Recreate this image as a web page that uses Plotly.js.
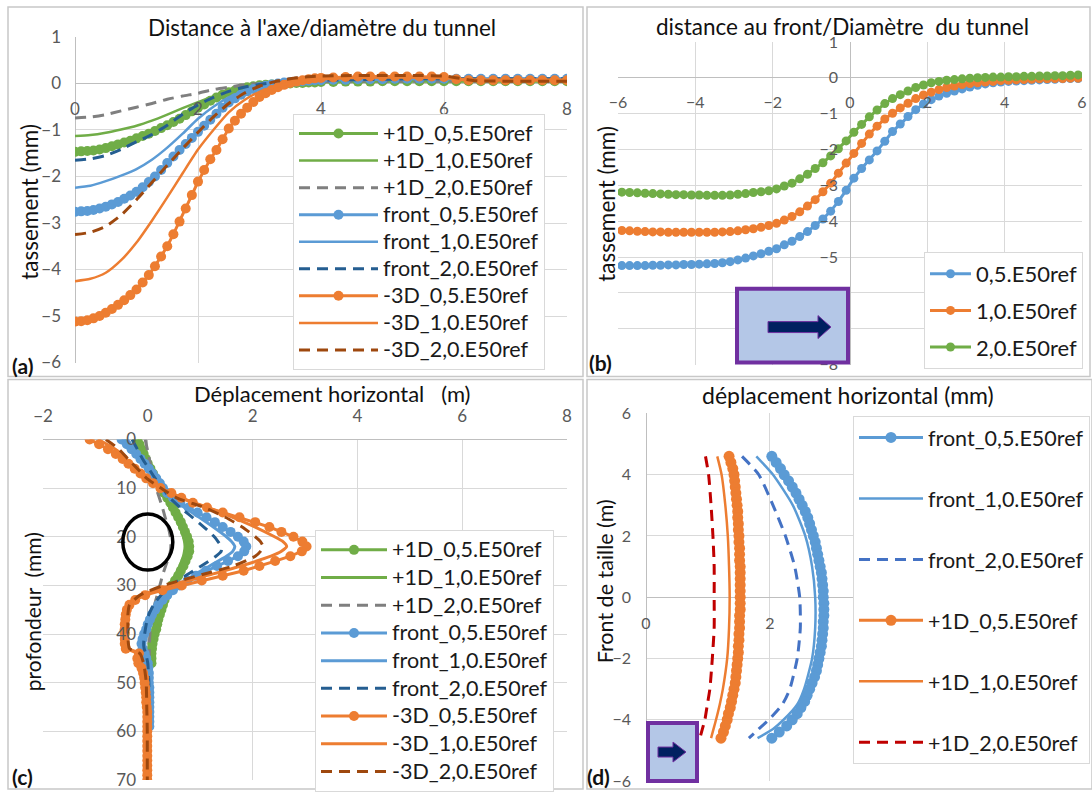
<!DOCTYPE html>
<html><head><meta charset="utf-8">
<script src="https://cdn.plot.ly/plotly-3.0.1.min.js"></script>
<style>html,body{margin:0;padding:0;background:#fff}#plot{width:1092px;height:792px}</style>
</head><body><div id="plot"></div>
<script>
// ---------- Panel (a): settlement vs distance to axis / diameter ----------
const xa = [0,0.1,0.2,0.3,0.4,0.5,0.6,0.7,0.8,0.9,1,1.1,1.2,1.3,1.4,1.5,1.6,1.7,1.8,1.9,2,2.1,2.2,2.3,2.4,2.5,2.6,2.7,2.8,2.9,3,3.1,3.2,3.3,3.4,3.5,3.6,3.7,3.8,3.9,4,4.2,4.4,4.6,4.8,5,5.2,5.4,5.6,5.8,6,6.2,6.4,6.6,6.8,7,7.2,7.4,7.6,7.8,8];
const a_p1_05 = [-1.47,-1.46,-1.45,-1.44,-1.42,-1.39,-1.35,-1.31,-1.27,-1.23,-1.18,-1.13,-1.08,-1.02,-0.96,-0.90,-0.83,-0.76,-0.68,-0.60,-0.52,-0.45,-0.37,-0.30,-0.24,-0.19,-0.15,-0.11,-0.08,-0.06,-0.04,-0.03,-0.02,-0.01,0.00,0.00,0.01,0.01,0.02,0.02,0.03,0.03,0.04,0.04,0.04,0.05,0.05,0.05,0.05,0.05,0.05,0.05,0.05,0.05,0.05,0.05,0.05,0.05,0.05,0.05,0.05];
const a_fr_05 = [-2.76,-2.75,-2.74,-2.72,-2.69,-2.65,-2.60,-2.55,-2.48,-2.41,-2.33,-2.23,-2.12,-2.00,-1.86,-1.71,-1.57,-1.43,-1.30,-1.17,-1.04,-0.91,-0.78,-0.65,-0.52,-0.41,-0.32,-0.24,-0.17,-0.12,-0.08,-0.05,-0.02,0.00,0.02,0.03,0.04,0.05,0.06,0.07,0.07,0.08,0.08,0.09,0.09,0.09,0.10,0.10,0.10,0.10,0.10,0.10,0.10,0.10,0.10,0.10,0.10,0.10,0.10,0.10,0.10];
const a_m3_05 = [-5.12,-5.11,-5.09,-5.05,-5.00,-4.93,-4.85,-4.76,-4.66,-4.55,-4.43,-4.28,-4.12,-3.93,-3.72,-3.50,-3.24,-2.97,-2.69,-2.40,-2.11,-1.86,-1.63,-1.43,-1.20,-0.97,-0.80,-0.65,-0.52,-0.40,-0.29,-0.21,-0.14,-0.08,-0.03,0.01,0.04,0.07,0.09,0.11,0.12,0.13,0.14,0.15,0.15,0.15,0.15,0.15,0.15,0.15,0.14,0.09,0.07,0.07,0.07,0.07,0.07,0.07,0.07,0.07,0.07];
const xl = [0,0.25,0.5,0.75,1,1.25,1.5,1.75,2,2.25,2.5,2.75,3,3.25,3.5,3.75,4,4.5,5,5.5,6,6.5,7,7.5,8];
const a_p1_10 = [-1.13,-1.11,-1.06,-0.99,-0.91,-0.80,-0.67,-0.53,-0.40,-0.28,-0.17,-0.09,-0.03,0.00,0.02,0.03,0.04,0.05,0.05,0.05,0.05,0.05,0.05,0.05,0.05];
const a_p1_20 = [-0.74,-0.72,-0.67,-0.59,-0.51,-0.43,-0.34,-0.27,-0.21,-0.13,-0.08,-0.03,0.00,0.02,0.03,0.04,0.04,0.05,0.05,0.05,0.05,0.05,0.05,0.05,0.05];
const a_fr_10 = [-2.24,-2.20,-2.10,-1.98,-1.84,-1.64,-1.38,-1.08,-0.76,-0.50,-0.30,-0.16,-0.07,-0.02,0.02,0.05,0.07,0.08,0.09,0.10,0.10,0.10,0.10,0.10,0.10];
const a_fr_20 = [-1.65,-1.62,-1.55,-1.42,-1.25,-1.10,-0.90,-0.66,-0.46,-0.30,-0.17,-0.08,-0.02,0.02,0.04,0.06,0.07,0.08,0.09,0.10,0.10,0.10,0.10,0.10,0.10];
const a_m3_10 = [-4.25,-4.20,-4.07,-3.80,-3.42,-2.95,-2.45,-1.93,-1.42,-1.00,-0.62,-0.36,-0.18,-0.07,0.01,0.06,0.09,0.12,0.13,0.13,0.12,0.08,0.08,0.08,0.08];
const a_m3_20 = [-3.25,-3.20,-3.07,-2.83,-2.50,-2.13,-1.76,-1.40,-1.05,-0.72,-0.43,-0.21,-0.06,0.04,0.10,0.14,0.16,0.17,0.17,0.17,0.16,0.06,0.05,0.05,0.05];
const a_names = ['+1D_0,5.E50ref','+1D_1,0.E50ref','+1D_2,0.E50ref','front_0,5.E50ref','front_1,0.E50ref','front_2,0.E50ref','-3D_0,5.E50ref','-3D_1,0.E50ref','-3D_2,0.E50ref'];

// ---------- Panel (b): settlement vs distance to face / diameter ----------
const xb = [-5.9,-5.7,-5.5,-5.3,-5.1,-4.9,-4.7,-4.5,-4.3,-4.1,-3.9,-3.7,-3.5,-3.3,-3.1,-2.9,-2.7,-2.5,-2.3,-2.1,-1.9,-1.7,-1.5,-1.3,-1.1,-0.9,-0.7,-0.5,-0.3,-0.1,0.1,0.3,0.5,0.7,0.9,1.1,1.3,1.5,1.7,1.9,2.1,2.3,2.5,2.7,2.9,3.1,3.3,3.5,3.7,3.9,4.1,4.3,4.5,4.7,4.9,5.1,5.3,5.5,5.7,5.9];
const b_05 = [-5.24,-5.24,-5.24,-5.24,-5.23,-5.23,-5.22,-5.22,-5.21,-5.21,-5.20,-5.19,-5.18,-5.16,-5.13,-5.08,-5.03,-4.97,-4.91,-4.84,-4.77,-4.66,-4.56,-4.43,-4.29,-4.12,-3.94,-3.72,-3.45,-3.14,-2.80,-2.53,-2.29,-2.04,-1.77,-1.50,-1.29,-1.08,-0.89,-0.73,-0.61,-0.51,-0.43,-0.37,-0.31,-0.26,-0.21,-0.17,-0.14,-0.12,-0.10,-0.09,-0.08,-0.07,-0.06,-0.05,-0.04,-0.03,-0.02,-0.02];
const b_10 = [-4.26,-4.27,-4.28,-4.29,-4.30,-4.30,-4.31,-4.31,-4.31,-4.31,-4.31,-4.31,-4.31,-4.30,-4.29,-4.27,-4.24,-4.21,-4.17,-4.12,-4.06,-3.97,-3.87,-3.74,-3.58,-3.40,-3.18,-2.94,-2.66,-2.38,-2.11,-1.83,-1.57,-1.35,-1.15,-0.99,-0.84,-0.71,-0.58,-0.48,-0.40,-0.33,-0.27,-0.23,-0.19,-0.16,-0.14,-0.12,-0.10,-0.08,-0.07,-0.06,-0.05,-0.04,-0.03,-0.03,-0.02,-0.02,-0.01,-0.01];
const b_20 = [-3.19,-3.20,-3.21,-3.22,-3.23,-3.24,-3.25,-3.26,-3.26,-3.27,-3.27,-3.28,-3.28,-3.28,-3.27,-3.25,-3.23,-3.20,-3.18,-3.15,-3.10,-3.02,-2.94,-2.82,-2.69,-2.53,-2.37,-2.18,-1.98,-1.76,-1.52,-1.30,-1.09,-0.90,-0.72,-0.58,-0.47,-0.37,-0.27,-0.20,-0.14,-0.10,-0.07,-0.05,-0.03,-0.01,0.00,0.01,0.02,0.02,0.03,0.03,0.04,0.04,0.05,0.05,0.06,0.06,0.07,0.08];
const b_names = ['0,5.E50ref','1,0.E50ref','2,0.E50ref'];

// ---------- Panel (c): horizontal displacement vs depth ----------
const dc = [0,1,2,3,4,5,6,7,8,9,10,11,12,13,14,15,16,17,18,19,20,21,22,23,24,25,26,27,28,29,30,31,32,33,34,35,36,37,38,39,40,41,42,43,44,45,46,47,48,49,50,51,52,53,54,55,56,57,58,59,60,61,62,63,64,65,66,67,68,69,70];
const c_p1_05 = [-0.20,-0.16,-0.12,-0.08,-0.04,0.00,0.05,0.10,0.15,0.20,0.25,0.31,0.37,0.43,0.48,0.53,0.58,0.63,0.67,0.71,0.75,0.78,0.79,0.79,0.76,0.72,0.68,0.63,0.58,0.52,0.46,0.41,0.36,0.32,0.29,0.26,0.23,0.20,0.18,0.16,0.13,0.11,0.09,0.08,0.07,0.07,0.07];
const c_fr_05 = [-0.50,-0.40,-0.31,-0.22,-0.14,-0.06,0.02,0.09,0.16,0.23,0.29,0.37,0.48,0.62,0.78,0.95,1.12,1.28,1.43,1.58,1.72,1.83,1.88,1.84,1.72,1.53,1.32,1.11,0.92,0.76,0.61,0.48,0.37,0.28,0.20,0.14,0.08,0.04,0.00,-0.03,-0.07,-0.10,-0.12,-0.10,-0.06,-0.03,0.00,0.01,0.02,0.02,0.02,0.03,0.03,0.03,0.03,0.03,0.03,0.03,0.03,0.03];
const c_m3_05 = [-1.11,-0.93,-0.76,-0.61,-0.48,-0.37,-0.25,-0.14,-0.03,0.10,0.24,0.45,0.64,0.86,1.13,1.43,1.75,2.05,2.32,2.55,2.78,2.95,3.03,2.94,2.72,2.43,2.13,1.83,1.43,1.03,0.65,0.28,-0.05,-0.24,-0.35,-0.40,-0.42,-0.43,-0.44,-0.44,-0.44,-0.44,-0.44,-0.42,-0.17,-0.20,-0.18,-0.12,-0.09,-0.07,-0.06,-0.05,-0.04,-0.03,-0.03,-0.02,-0.01,-0.01,-0.01,-0.01,-0.01,-0.01,-0.01,-0.01,-0.01,-0.01,-0.01,-0.01,-0.01,-0.01,-0.01];
const dcl = [0,2,4,6,8,10,12,14,16,18,20,21,22,23,24,26,28,30,32,34,36,38,40,42,43,44,46,48,50,55,60,65,70];
const c_p1_10 = [-0.15,-0.07,0.01,0.09,0.17,0.25,0.35,0.45,0.54,0.62,0.68,0.70,0.71,0.70,0.68,0.61,0.52,0.42,0.33,0.26,0.20,0.15,0.11,0.08,0.07,0.07,0.06];
const c_p1_20 = [-0.05,-0.01,0.03,0.07,0.11,0.16,0.22,0.28,0.33,0.39,0.43,0.44,0.44,0.43,0.41,0.34,0.28,0.23,0.18,0.13,0.09,0.06,0.04,0.03,0.03,0.03,0.03];
const c_fr_10 = [-0.45,-0.30,-0.15,0.00,0.13,0.28,0.45,0.70,0.98,1.25,1.50,1.60,1.66,1.62,1.50,1.18,0.86,0.58,0.36,0.18,0.06,-0.02,-0.07,-0.10,-0.09,-0.06,-0.01,0.01,0.02,0.03,0.03];
const c_fr_20 = [-0.30,-0.20,-0.10,0.02,0.14,0.28,0.42,0.62,0.85,1.07,1.27,1.34,1.40,1.40,1.30,1.02,0.72,0.45,0.25,0.11,0.02,-0.03,-0.06,-0.08,-0.07,-0.04,0.00,0.01,0.02,0.02,0.02];
const c_m3_10 = [-0.95,-0.62,-0.42,-0.22,-0.02,0.25,0.62,1.15,1.62,2.05,2.42,2.58,2.65,2.55,2.35,1.78,1.12,0.45,-0.12,-0.36,-0.42,-0.42,-0.42,-0.41,-0.38,-0.15,-0.12,-0.07,-0.04,-0.02,-0.01,-0.01,-0.01];
const c_m3_20 = [-0.80,-0.55,-0.38,-0.20,-0.02,0.25,0.55,1.08,1.48,1.80,2.05,2.15,2.20,2.15,2.05,1.63,0.96,0.30,-0.15,-0.35,-0.38,-0.38,-0.38,-0.37,-0.35,-0.15,-0.08,-0.05,-0.03,-0.02,-0.01,-0.01,-0.01];

// ---------- Panel (d): horizontal displacement along the face ----------
const yd = [4.6,4.4,4.2,4.0,3.8,3.6,3.4,3.2,3.0,2.8,2.6,2.4,2.2,2.0,1.8,1.6,1.4,1.2,1.0,0.8,0.6,0.4,0.2,0.0,-0.2,-0.4,-0.6,-0.8,-1.0,-1.2,-1.4,-1.6,-1.8,-2.0,-2.2,-2.4,-2.6,-2.8,-3.0,-3.2,-3.4,-3.6,-3.8,-4.0,-4.2,-4.4,-4.6];
const d_fr_05 = [2.03,2.10,2.17,2.23,2.30,2.36,2.42,2.47,2.52,2.57,2.61,2.64,2.67,2.70,2.73,2.75,2.77,2.79,2.81,2.83,2.84,2.85,2.86,2.86,2.87,2.87,2.87,2.86,2.86,2.85,2.84,2.83,2.81,2.79,2.77,2.75,2.72,2.68,2.64,2.60,2.56,2.50,2.44,2.36,2.27,2.15,2.03];
const d_p1_05 = [1.34,1.37,1.40,1.42,1.43,1.44,1.45,1.46,1.47,1.48,1.48,1.49,1.49,1.50,1.50,1.51,1.51,1.51,1.52,1.52,1.52,1.52,1.52,1.52,1.52,1.52,1.51,1.51,1.51,1.50,1.50,1.49,1.49,1.48,1.47,1.46,1.45,1.44,1.42,1.40,1.38,1.36,1.33,1.31,1.28,1.25,1.21];
const ydl = [4.6,4.0,3.0,2.0,1.0,0.0,-1.0,-2.0,-3.0,-3.5,-4.0,-4.3,-4.6];
const d_fr_10 = [1.78,2.05,2.37,2.57,2.68,2.73,2.73,2.68,2.55,2.44,2.22,2.05,1.80];
const d_fr_20 = [1.55,1.82,2.05,2.25,2.40,2.48,2.49,2.44,2.32,2.20,1.98,1.82,1.66];
const d_p1_10 = [1.15,1.22,1.28,1.32,1.34,1.35,1.34,1.31,1.24,1.19,1.13,1.09,1.05];
const d_p1_20 = [0.96,1.01,1.05,1.08,1.10,1.10,1.10,1.07,1.03,0.99,0.95,0.91,0.87];
const d_names = ['front_0,5.E50ref','front_1,0.E50ref','front_2,0.E50ref','+1D_0,5.E50ref','+1D_1,0.E50ref','+1D_2,0.E50ref'];

// ---------- styling ----------
const W = 1092, H = 792;
const px = v => v / W, py = v => 1 - v / H;
const FONT = 'Lato, "Open Sans", sans-serif';
const GREEN = '#70ad47', GREY = '#7f7f7f', BLUE = '#5b9bd5', DBLUE = '#255e91',
      ORANGE = '#ed7d31', BROWN = '#9e480e', BLUE2 = '#4472c4', RED = '#c00000';
const DASH = '11px,7px';
const big = (s, sz) => sz ? '<span style="font-size:' + sz + 'px">' + s + '</span>' : s;

function dots(x, y, name, color, size, ax, lg, sz) {
  return {x, y, name: big(name, sz), type: 'scatter', mode: 'lines+markers', xaxis: ax[0], yaxis: ax[1], legend: lg,
    line: {color, width: 3}, marker: {color, size}, legendgroup: lg + name};
}
function line(x, y, name, color, width, dash, ax, lg, sz) {
  return {x, y, name: big(name, sz), type: 'scatter', mode: 'lines', xaxis: ax[0], yaxis: ax[1], legend: lg,
    line: {color, width, dash: dash || 'solid', shape: 'spline', smoothing: 0.6}, legendgroup: lg + name};
}
const A = ['x', 'y'], B = ['x2', 'y2'], C = ['x3', 'y3'], D = ['x4', 'y4'];
const LS = 21.5;
const traces = [
  dots(xa, a_p1_05, a_names[0], GREEN, 10, A, 'legend', LS),
  line(xl, a_p1_10, a_names[1], GREEN, 2.5, null, A, 'legend', LS),
  line(xl, a_p1_20, a_names[2], GREY, 3, DASH, A, 'legend', LS),
  dots(xa, a_fr_05, a_names[3], BLUE, 10, A, 'legend', LS),
  line(xl, a_fr_10, a_names[4], BLUE, 2.5, null, A, 'legend', LS),
  line(xl, a_fr_20, a_names[5], DBLUE, 3, DASH, A, 'legend', LS),
  dots(xa, a_m3_05, a_names[6], ORANGE, 10, A, 'legend', LS),
  line(xl, a_m3_10, a_names[7], ORANGE, 2.5, null, A, 'legend', LS),
  line(xl, a_m3_20, a_names[8], BROWN, 3, DASH, A, 'legend', LS),

  dots(xb, b_05, b_names[0], BLUE, 9, B, 'legend2'),
  dots(xb, b_10, b_names[1], ORANGE, 9, B, 'legend2'),
  dots(xb, b_20, b_names[2], GREEN, 9, B, 'legend2'),

  dots(c_p1_05, dc, a_names[0], GREEN, 10, C, 'legend3', LS),
  line(c_p1_10, dcl, a_names[1], GREEN, 3, null, C, 'legend3', LS),
  line(c_p1_20, dcl, a_names[2], GREY, 3, DASH, C, 'legend3', LS),
  dots(c_fr_05, dc, a_names[3], BLUE, 10, C, 'legend3', LS),
  line(c_fr_10, dcl, a_names[4], BLUE, 3, null, C, 'legend3', LS),
  line(c_fr_20, dcl, a_names[5], DBLUE, 3, DASH, C, 'legend3', LS),
  dots(c_m3_05, dc, a_names[6], ORANGE, 10, C, 'legend3', LS),
  line(c_m3_10, dcl, a_names[7], ORANGE, 3, null, C, 'legend3', LS),
  line(c_m3_20, dcl, a_names[8], BROWN, 3, DASH, C, 'legend3', LS),

  dots(d_fr_05, yd, d_names[0], BLUE, 11, D, 'legend4'),
  line(d_fr_10, ydl, d_names[1], BLUE, 2.5, null, D, 'legend4'),
  line(d_fr_20, ydl, d_names[2], BLUE2, 3, DASH, D, 'legend4'),
  dots(d_p1_05, yd, d_names[3], ORANGE, 11, D, 'legend4'),
  line(d_p1_10, ydl, d_names[4], ORANGE, 2.5, null, D, 'legend4'),
  line(d_p1_20, ydl, d_names[5], RED, 3, DASH, D, 'legend4')
];

const GRID = '#d9d9d9', TICK = '#595959';
function axis(extra) {
  return Object.assign({showgrid: true, gridcolor: GRID, gridwidth: 1, zeroline: true, zerolinecolor: '#bfbfbf',
    zerolinewidth: 1, showline: false, ticks: '', ticklabelstandoff: 10, fixedrange: true,
    tickfont: {family: FONT, size: 16, color: TICK}}, extra);
}
function legend(x, y, size, gap, iw) {
  return {x: px(x), y: py(y), xanchor: 'left', yanchor: 'top', bgcolor: '#ffffff', bordercolor: GRID, borderwidth: 1,
    font: {family: FONT, size, color: '#1a1a1a'}, itemwidth: iw, tracegroupgap: gap, traceorder: 'grouped'};
}
function ann(text, x, y, size, extra) {
  return Object.assign({text, x: px(x), y: py(y), xref: 'paper', yref: 'paper', showarrow: false,
    xanchor: 'center', yanchor: 'middle', font: {family: FONT, size, color: '#111111'}}, extra || {});
}
function pathOf(pts) {
  return 'M' + pts.map(p => px(p[0]).toFixed(5) + ',' + py(p[1]).toFixed(5)).join(' L') + ' Z';
}
const frame = (x0, y0, x1, y1) => ({type: 'rect', xref: 'paper', yref: 'paper', x0: px(x0), x1: px(x1), y0: py(y1), y1: py(y0),
  line: {color: '#c8c8c8', width: 1.5}, fillcolor: 'rgba(0,0,0,0)', layer: 'below'});
const box = (x0, y0, x1, y1) => ({type: 'rect', xref: 'paper', yref: 'paper', x0: px(x0), x1: px(x1), y0: py(y1), y1: py(y0),
  line: {color: '#7030a0', width: 4}, fillcolor: '#b4c7e7', layer: 'above'});
const arrow = pts => ({type: 'path', xref: 'paper', yref: 'paper', path: pathOf(pts),
  line: {color: '#7030a0', width: 1}, fillcolor: '#002060', layer: 'above'});

const layout = {
  width: W, height: H, margin: {l: 0, r: 0, t: 0, b: 0}, paper_bgcolor: '#ffffff', plot_bgcolor: 'rgba(0,0,0,0)',
  showlegend: true, font: {family: FONT},
  xaxis: axis({domain: [px(75), px(567)], range: [0, 8], dtick: 2, anchor: 'free', position: py(83), ticklabelstandoff: 14, tickfont: {family: FONT, size: 17, color: TICK}}),
  yaxis: axis({domain: [py(363), py(37)], range: [-6, 1], dtick: 1, anchor: 'x', ticklabelstandoff: 13, tickfont: {family: FONT, size: 17, color: TICK}}),
  xaxis2: axis({domain: [px(618), px(1082)], range: [-6, 6], dtick: 2, anchor: 'free', position: py(77), ticklabelstandoff: 14}),
  yaxis2: axis({domain: [py(365), py(42)], range: [-8, 1], dtick: 1, anchor: 'free', position: px(850), ticklabelstandoff: 12}),
  xaxis3: axis({domain: [px(43), px(567)], range: [-2, 8], dtick: 2, anchor: 'y3', side: 'top', ticklabelstandoff: 13, tickfont: {family: FONT, size: 17, color: TICK}}),
  yaxis3: axis({domain: [py(781), py(440)], range: [70, 0], dtick: 10, anchor: 'free', position: px(148), ticklabelstandoff: 12, tickfont: {family: FONT, size: 17, color: TICK}}),
  xaxis4: axis({domain: [px(646), px(853)], range: [0, 3.34], dtick: 2, anchor: 'free', position: py(598), ticklabelstandoff: 15}),
  yaxis4: axis({domain: [py(782), py(414)], range: [-6, 6], dtick: 2, anchor: 'x4', ticklabelstandoff: 14}),
  legend: legend(293, 114, 18.5, 0, 79),
  legend2: legend(924, 252, 22, 5, 41),
  legend3: legend(315, 531, 19, 0, 66),
  legend4: legend(853, 416, 21.5, 30, 64),
  annotations: [
    ann("Distance à l'axe/diamètre du tunnel", 322, 28, 22.5),
    ann('distance au front/Diamètre\u00a0 du tunnel', 842, 27, 22.5),
    ann('Déplacement horizontal\u00a0\u00a0 (m)', 332, 394, 22),
    ann('déplacement horizontal (mm)', 848, 395, 23),
    ann('tassement (mm)', 30, 202, 22.5, {textangle: -90}),
    ann('tassement (mm)', 607, 204, 22.5, {textangle: -90}),
    ann('profondeur\u00a0 (mm)', 32, 613, 21, {textangle: -90}),
    ann('Front de taille (m)', 605, 582, 21.5, {textangle: -90}),
    ann('<b>(a)</b>', 22, 366, 21),
    ann('<b>(b)</b>', 600, 363, 21),
    ann('<b>(c)</b>', 22, 777, 21),
    ann('<b>(d)</b>', 598, 777, 21)
  ],
  shapes: [
    frame(8, 7, 583, 377), frame(587, 7, 1090, 377), frame(8, 380, 583, 790), frame(587, 380, 1092, 790),
    {type: 'circle', xref: 'x3', yref: 'y3', xsizemode: 'pixel', ysizemode: 'pixel', xanchor: 0, yanchor: 21.1,
      x0: -25, x1: 25, y0: -28, y1: 28, line: {color: '#000000', width: 3.5}, layer: 'above'},
    box(737, 289, 848, 363),
    arrow([[768, 322], [818, 322], [818, 316], [831, 327.5], [818, 339], [818, 333], [768, 333]]),
    box(648, 724, 697, 782),
    arrow([[658, 748], [673, 748], [673, 743], [686, 753], [673, 763], [673, 758], [658, 758]])
  ]
};
Plotly.newPlot('plot', traces, layout, {displayModeBar: false, staticPlot: true});
</script></body></html>
